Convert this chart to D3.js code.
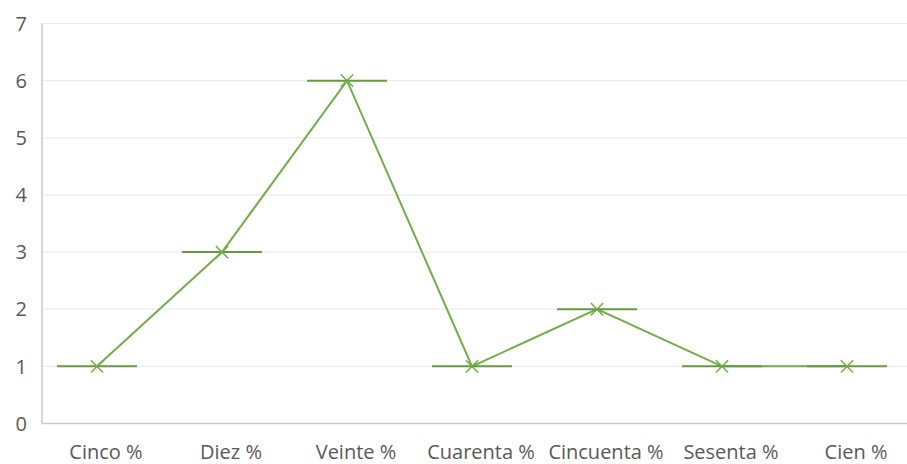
<!DOCTYPE html>
<html>
<head>
<meta charset="utf-8">
<script src="https://cdn.jsdelivr.net/npm/d3@7"></script>
<style>
  body { margin: 0; background: #fff; }
  svg { display: block; }
</style>
</head>
<body>
<div id="chart"></div>
<script>
var categories = ["Cinco %", "Diez %", "Veinte %", "Cuarenta %", "Cincuenta %", "Sesenta %", "Cien %"];
var values = [1, 3, 6, 1, 2, 1, 1];
var yTicks = [0, 1, 2, 3, 4, 5, 6, 7];

var width = 907, height = 464;
var plotLeft = 42, plotRight = 907;

var svg = d3.select("#chart").append("svg")
    .attr("width", width)
    .attr("height", height);

// band scale wider than the visible plot: the right side is cut off in the picture
var x = d3.scaleBand()
    .domain(categories)
    .range([34.5, 909.5]);

var y = d3.scaleLinear()
    .domain([0, 7])
    .range([423.5, 23.5]);

var green = "#70ad47";

// gridlines
svg.append("g")
    .selectAll("line")
    .data(yTicks.filter(function(d){ return d > 0; }))
    .enter().append("line")
    .attr("x1", plotLeft)
    .attr("x2", plotRight)
    .attr("y1", function(d){ return y(d); })
    .attr("y2", function(d){ return y(d); })
    .attr("stroke", "#ececec")
    .attr("stroke-width", 1.2);

// axis lines
svg.append("line")
    .attr("x1", plotLeft).attr("x2", plotRight)
    .attr("y1", y(0)).attr("y2", y(0))
    .attr("stroke", "#c9c9c9").attr("stroke-width", 1.5);
svg.append("line")
    .attr("x1", plotLeft).attr("x2", plotLeft)
    .attr("y1", y(7)).attr("y2", y(0))
    .attr("stroke", "#c9c9c9").attr("stroke-width", 1.5);

// y labels
svg.append("g")
    .selectAll("text")
    .data(yTicks)
    .enter().append("text")
    .attr("x", 27)
    .attr("y", function(d){ return y(d); })
    .attr("dy", "0.36em")
    .attr("text-anchor", "end")
    .style("font", "20px 'Open Sans', sans-serif")
    .attr("fill", "#595959")
    .text(function(d){ return d; });

// x labels (sit a little right of the point centres in the original)
svg.append("g")
    .selectAll("text")
    .data(categories)
    .enter().append("text")
    .attr("x", function(d){ return x(d) + x.bandwidth() / 2 + 9; })
    .attr("y", 459)
    .attr("text-anchor", "middle")
    .style("font", "20px 'Open Sans', sans-serif")
    .attr("fill", "#595959")
    .text(function(d){ return d; });

var cx = function(d, i){ return x(categories[i]) + x.bandwidth() / 2; };

// connecting line
var line = d3.line()
    .x(cx)
    .y(function(d){ return y(d); });

svg.append("path")
    .datum(values)
    .attr("d", line)
    .attr("fill", "none")
    .attr("stroke", green)
    .attr("stroke-width", 2);

// dash markers
svg.append("g")
    .selectAll("line")
    .data(values)
    .enter().append("line")
    .attr("x1", function(d, i){ return cx(d, i) - 40; })
    .attr("x2", function(d, i){ return cx(d, i) + 40; })
    .attr("y1", function(d){ return y(d); })
    .attr("y2", function(d){ return y(d); })
    .attr("stroke", "#639c3c")
    .attr("stroke-width", 2);

// x markers
var sym = d3.symbol().type(d3.symbolTimes).size(100);
svg.append("g")
    .selectAll("path")
    .data(values)
    .enter().append("path")
    .attr("transform", function(d, i){ return "translate(" + cx(d, i) + "," + y(d) + ")"; })
    .attr("d", sym)
    .attr("fill", "none")
    .attr("stroke", green)
    .attr("stroke-width", 1.5);
</script>
</body>
</html>
